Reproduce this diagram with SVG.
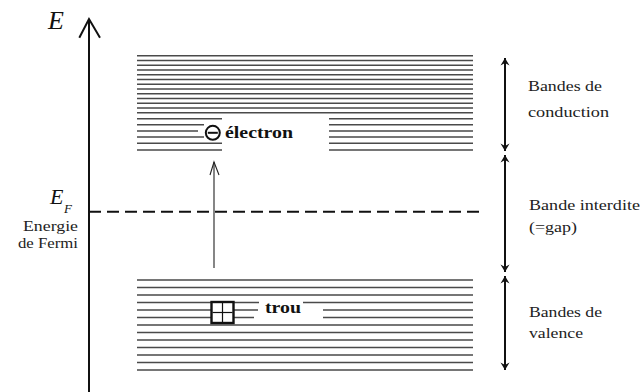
<svg xmlns="http://www.w3.org/2000/svg" width="641" height="392" viewBox="0 0 641 392">
<style>
.band{stroke:#4a4a4a;stroke-width:1.4;fill:none}
.lbl{font-family:"Liberation Serif","Times New Roman",serif;fill:#222;font-size:15px}
.it{font-family:"Liberation Serif","Times New Roman",serif;font-style:italic;fill:#111}
.bold{font-family:"Liberation Serif","Times New Roman",serif;font-weight:bold;fill:#111;font-size:17px}
.dbl{stroke:#111;stroke-width:2;fill:none;marker-start:url(#ah);marker-end:url(#ah)}
</style>
<defs>
<marker id="ah" markerUnits="userSpaceOnUse" markerWidth="12" markerHeight="12" viewBox="-8 -6 10 12" refX="0" refY="0" orient="auto-start-reverse">
<path d="M0,0 L-7.5,-4.5 L-5,0 L-7.5,4.5 Z" fill="#111"/>
</marker>
</defs>
<rect width="641" height="392" fill="#fff"/>

<g id="axis">
<line x1="89" y1="392" x2="89" y2="20" stroke="#111" stroke-width="2"/>
<polyline points="79.3,37.7 89,19 100,37.7" fill="none" stroke="#111" stroke-width="2"/>
<text class="it" x="48" y="29" font-size="26">E</text>
</g>

<g id="conduction-band">
<path class="band" d="M137,55.7H473M137,60.45H473M137,65.2H473M137,69.95H473M137,74.7H473M137,79.45H473M137,84.2H473M137,88.95H473M137,93.7H473M137,98.45H473M137,103.2H473M137,107.95H473M137,112.7H473
M137,118.7H222M137,124.7H204M137,131H198M137,137H204M137,143.3H222M137,150H222
M329,118.7H473M329,124.7H473M329,131H473M329,137H473M329,143.3H473M329,150H473"/>
</g>

<g id="electron">
<circle cx="212.8" cy="132.8" r="7" fill="#fff" stroke="#111" stroke-width="2"/>
<line x1="207.8" y1="132.8" x2="217.8" y2="132.8" stroke="#111" stroke-width="2"/>
<text class="bold" x="225" y="137.7" textLength="68" lengthAdjust="spacingAndGlyphs">électron</text>
</g>

<g id="valence-band">
<path class="band" d="M137,280H473M137,287.5H473M137,295H473
M137,302.5H259M303,302.5H473
M137,310H258M323,310H473
M137,317.5H254M323,317.5H473
M137,325H473M137,332.5H473M137,340H473M137,347.5H473M137,355H473M137,362.5H473M137,370H473"/>
</g>

<g id="hole">
<rect x="211.5" y="302" width="22" height="21" fill="#fff" stroke="#111" stroke-width="2.4"/>
<line x1="222.5" y1="303" x2="222.5" y2="322" stroke="#111" stroke-width="1.2"/>
<line x1="212.5" y1="312.5" x2="232.5" y2="312.5" stroke="#111" stroke-width="1.2"/>
<text class="bold" x="265" y="313" textLength="36" lengthAdjust="spacingAndGlyphs">trou</text>
</g>

<g id="fermi">
<line x1="89" y1="211.7" x2="479" y2="211.7" stroke="#111" stroke-width="2" stroke-dasharray="12,6"/>
<text class="it" x="50" y="204" font-size="22">E</text>
<text class="it" x="64" y="213" font-size="13">F</text>
<text class="lbl" x="23" y="231" textLength="55" lengthAdjust="spacingAndGlyphs">Energie</text>
<text class="lbl" x="18" y="248" textLength="60" lengthAdjust="spacingAndGlyphs">de Fermi</text>
</g>

<g id="connectors">
<line x1="214" y1="268" x2="214" y2="162" stroke="#222" stroke-width="1.1"/>
<polyline points="210,175 214,162 219,175" fill="none" stroke="#222" stroke-width="1.1"/>
<line class="dbl" x1="505" y1="58" x2="505" y2="151"/>
<line class="dbl" x1="505" y1="155" x2="505" y2="272"/>
<line class="dbl" x1="505" y1="276" x2="505" y2="370"/>
</g>

<g id="labels">
<text class="lbl" x="528" y="90.7" textLength="74" lengthAdjust="spacingAndGlyphs">Bandes de</text>
<text class="lbl" x="528" y="116.7" textLength="81" lengthAdjust="spacingAndGlyphs">conduction</text>
<text class="lbl" x="529" y="210" textLength="111" lengthAdjust="spacingAndGlyphs">Bande interdite</text>
<text class="lbl" x="529" y="231.7" textLength="48" lengthAdjust="spacingAndGlyphs">(=gap)</text>
<text class="lbl" x="529" y="316.7" textLength="73" lengthAdjust="spacingAndGlyphs">Bandes de</text>
<text class="lbl" x="529" y="338.3" textLength="54" lengthAdjust="spacingAndGlyphs">valence</text>
</g>
</svg>
